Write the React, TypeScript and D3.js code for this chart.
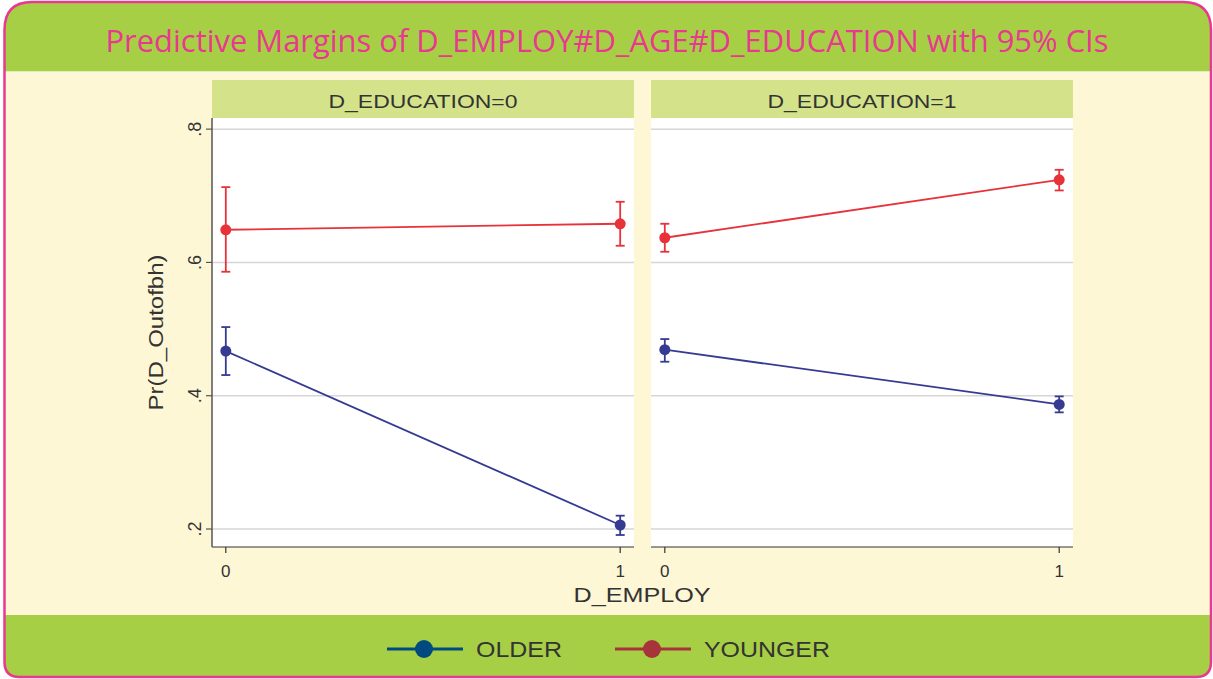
import React from 'react';
import * as d3 from 'd3';

const chartTitle = 'Predictive Margins of D_EMPLOY#D_AGE#D_EDUCATION with 95% CIs';
const panelLabels = ['D_EDUCATION=0', 'D_EDUCATION=1'];
const employLevels = [0, 1];
const yTicks = [0.2, 0.4, 0.6, 0.8];
const yTickLabels = ['.2', '.4', '.6', '.8'];
const seriesNames = ['OLDER', 'YOUNGER'];

// margins per panel [edu0, edu1], each [employ=0, employ=1]
const olderMean = [[0.467, 0.206], [0.469, 0.387]];
const olderLow = [[0.431, 0.191], [0.451, 0.375]];
const olderHigh = [[0.503, 0.220], [0.485, 0.399]];
const youngerMean = [[0.649, 0.658], [0.637, 0.724]];
const youngerLow = [[0.586, 0.625], [0.616, 0.708]];
const youngerHigh = [[0.713, 0.691], [0.658, 0.739]];

const W = 1213;
const H = 679;
const plotTop = 118;
const plotBottom = 547;
const panelBox = [[212, 634], [651, 1073]];

const font = '"Liberation Sans", Arial, sans-serif';
const lineColors = ['#363b92', '#e8323a'];
const legendColors = ['#004a7f', '#a6343a'];

export default function App() {
  const y = d3.scaleLinear().domain([0.173, 0.8167]).range([plotBottom, plotTop]);
  const outer = 'M4.5,30 Q4.5,2 32,2 L1183,2 Q1211,2 1211,30 L1211,662 Q1211,677 1196,677 L19.5,677 Q4.5,677 4.5,662 Z';

  const series = [
    { mean: olderMean, lo: olderLow, hi: olderHigh },
    { mean: youngerMean, lo: youngerLow, hi: youngerHigh },
  ];

  return (
    <svg width={W} height={H} style={{ position: 'absolute', left: 0, top: 0, display: 'block' }}>
      <defs>
        <clipPath id="outerClip"><path d={outer} /></clipPath>
      </defs>
      <g clipPath="url(#outerClip)">
        <rect x={0} y={0} width={W} height={72} fill="#a7cf45" />
        <rect x={0} y={72} width={W} height={543} fill="#fef7d6" />
        <rect x={0} y={615} width={W} height={64} fill="#a7cf45" />
        <line x1={0} x2={W} y1={72} y2={72} stroke="#f4f7dc" strokeWidth={1.5} />
      </g>
      <path d={outer} fill="none" stroke="#e8388f" strokeWidth={2.5} />

      <text x={607} y={52} fill="#e8388f" fontFamily='"Open Sans", sans-serif' fontSize={31}
        textAnchor="middle" textLength={1003} lengthAdjust="spacingAndGlyphs">{chartTitle}</text>

      {panelLabels.map((label, p) => {
        const [x0, x1] = panelBox[p];
        const x = d3.scaleLinear().domain([-0.035, 1.035]).range([x0, x1]);
        return (
          <g key={label}>
            <rect x={x0} y={80} width={x1 - x0} height={plotTop - 80} fill="#d4e38a" />
            <text x={(x0 + x1) / 2} y={108} textAnchor="middle" fontFamily={font} fontSize={19}
              fill="#333" textLength={189} lengthAdjust="spacingAndGlyphs">{label}</text>
            <rect x={x0} y={plotTop} width={x1 - x0} height={plotBottom - plotTop} fill="#fff" />
            {yTicks.map(t => (
              <line key={t} x1={x0} x2={x1} y1={y(t)} y2={y(t)} stroke="#d6d6d6" strokeWidth={1.5} />
            ))}
            <line x1={x0} x2={x1} y1={plotBottom} y2={plotBottom} stroke="#333" strokeWidth={1.2} />
            {employLevels.map(v => (
              <g key={v}>
                <line x1={x(v)} x2={x(v)} y1={plotBottom} y2={plotBottom + 6} stroke="#333" strokeWidth={1.2} />
                <text x={x(v)} y={577} textAnchor="middle" fontFamily={font} fontSize={17} fill="#333">{v}</text>
              </g>
            ))}
            {series.map((s, i) => {
              const line = d3.line<number>().x((_, k) => x(employLevels[k])).y(d => y(d));
              return (
                <g key={seriesNames[i]}>
                  <path d={line(s.mean[p]) || ''} fill="none" stroke={lineColors[i]} strokeWidth={1.8} />
                  {employLevels.map((v, k) => (
                    <g key={v} stroke={lineColors[i]} strokeWidth={1.8}>
                      <line x1={x(v)} x2={x(v)} y1={y(s.lo[p][k])} y2={y(s.hi[p][k])} />
                      <line x1={x(v) - 4.5} x2={x(v) + 4.5} y1={y(s.lo[p][k])} y2={y(s.lo[p][k])} />
                      <line x1={x(v) - 4.5} x2={x(v) + 4.5} y1={y(s.hi[p][k])} y2={y(s.hi[p][k])} />
                      <circle cx={x(v)} cy={y(s.mean[p][k])} r={5.5} fill={lineColors[i]} stroke="none" />
                    </g>
                  ))}
                </g>
              );
            })}
          </g>
        );
      })}

      {/* y axis on the first panel */}
      <line x1={212} x2={212} y1={plotTop} y2={plotBottom} stroke="#555" strokeWidth={1.5} />
      {yTicks.map((t, i) => (
        <g key={t}>
          <line x1={206} x2={212} y1={y(t)} y2={y(t)} stroke="#555" strokeWidth={1.2} />
          <text transform={`translate(201,${y(t)}) rotate(-90)`} textAnchor="middle" fontFamily={font}
            fontSize={18} fill="#333">{yTickLabels[i]}</text>
        </g>
      ))}
      <text transform={`translate(163,${(plotTop + plotBottom) / 2}) rotate(-90)`} textAnchor="middle"
        fontFamily={font} fontSize={21} fill="#333" textLength={156} lengthAdjust="spacingAndGlyphs">Pr(D_Outofbh)</text>
      <text x={642} y={602} textAnchor="middle" fontFamily={font} fontSize={21} fill="#333"
        textLength={137} lengthAdjust="spacingAndGlyphs">D_EMPLOY</text>

      {/* legend */}
      {seriesNames.map((name, i) => {
        const lx = i === 0 ? 387 : 615;
        return (
          <g key={name}>
            <line x1={lx} x2={lx + 76} y1={649} y2={649} stroke={legendColors[i]} strokeWidth={3} />
            <circle cx={lx + 37} cy={649} r={9} fill={legendColors[i]} />
            <text x={lx + 89} y={657} fontFamily={font} fontSize={22} fill="#333"
              textLength={i === 0 ? 86 : 126} lengthAdjust="spacingAndGlyphs">{name}</text>
          </g>
        );
      })}
    </svg>
  );
}
